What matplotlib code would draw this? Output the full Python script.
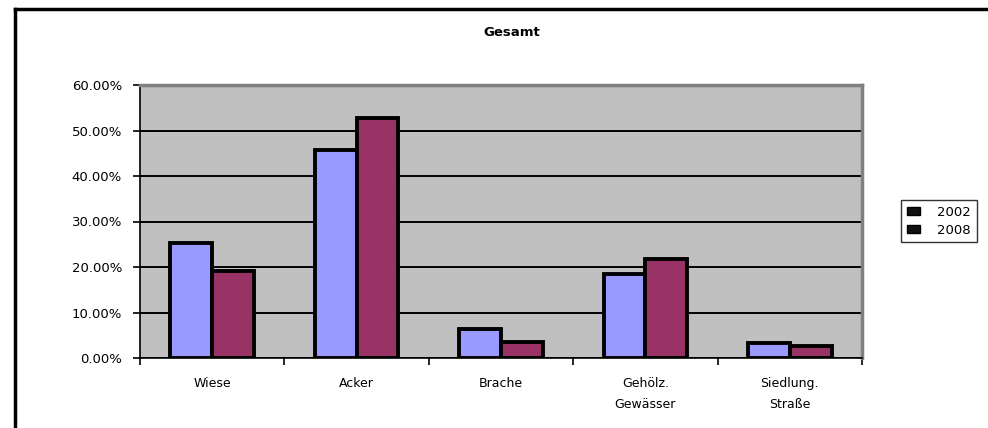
import numpy as np
import matplotlib.pyplot as plt
from matplotlib.lines import Line2D
from matplotlib.patches import Patch

plt.rcParams['font.family'] = ['DejaVu Sans']

# data (percent)
categories = ['Wiese', 'Acker', 'Brache', 'Gehölz.\nGewässer', 'Siedlung.\nStraße']
years = ['2002', '2008']
share_2002 = [25.3, 45.8, 6.3, 18.4, 3.4]
share_2008 = [19.2, 52.7, 3.6, 21.7, 2.6]
yticks = [0, 10, 20, 30, 40, 50, 60]

col_2002 = '#9999FF'
col_2008 = '#993366'

fig = plt.figure(figsize=(9.88, 4.28), dpi=100)
ax = fig.add_axes([140/988, 1-358/428, 722/988, 273/428])
ax.set_facecolor('#C0C0C0')

x = np.arange(len(categories))
w = 0.29
ax.bar(x - w/2, share_2002, w, color=col_2002, edgecolor='black', linewidth=2.8, zorder=3)
ax.bar(x + w/2, share_2008, w, color=col_2008, edgecolor='black', linewidth=2.8, zorder=3)

ax.set_xlim(-0.5, len(categories) - 0.5)
ax.set_ylim(0, 60)
ax.set_yticks(yticks)
ax.set_yticklabels(['%.2f%%' % v for v in yticks], fontsize=9.5)
ax.yaxis.grid(True, color='black', linewidth=1.4, zorder=1)
ax.set_axisbelow(True)

# category ticks sit between the groups, labels in the middle
ax.set_xticks(np.arange(len(categories) + 1) - 0.5)
ax.set_xticklabels([])
ax.set_xticks(x, minor=True)
ax.set_xticklabels(categories, minor=True, fontsize=9, linespacing=1.8)
ax.tick_params(axis='x', which='minor', length=0, pad=14)
ax.tick_params(axis='x', which='major', length=5, width=1.2, direction='out')
ax.tick_params(axis='y', length=5, width=1.2, direction='out', pad=8)

for s in ['top', 'right']:
    ax.spines[s].set_color('#808080')
    ax.spines[s].set_linewidth(2.5)
for s in ['left', 'bottom']:
    ax.spines[s].set_color('black')
    ax.spines[s].set_linewidth(1.2)

fig.text(512/988, 1-32/428, 'Gesamt', ha='center', va='center', fontsize=9.5, fontweight='bold')

handles = [Patch(facecolor='#111111', edgecolor='black', linewidth=1.0) for _ in years]
leg = fig.legend(handles, years, loc='upper left', bbox_to_anchor=(901/988, 1-200/428),
                 fontsize=9.5, frameon=True, fancybox=False, handlelength=1.0, handleheight=0.6,
                 handletextpad=1.3, borderpad=0.45, labelspacing=0.35, borderaxespad=0)
leg.get_frame().set_edgecolor('black')
leg.get_frame().set_linewidth(1.0)

# outer chart frame (top and left edges visible)
fig.add_artist(Line2D([15/988, 15/988], [0, 1-9/428], color='black', linewidth=2.5))
fig.add_artist(Line2D([15/988, 1], [1-9/428, 1-9/428], color='black', linewidth=2.5))

fig.savefig('out.png', dpi=100)
